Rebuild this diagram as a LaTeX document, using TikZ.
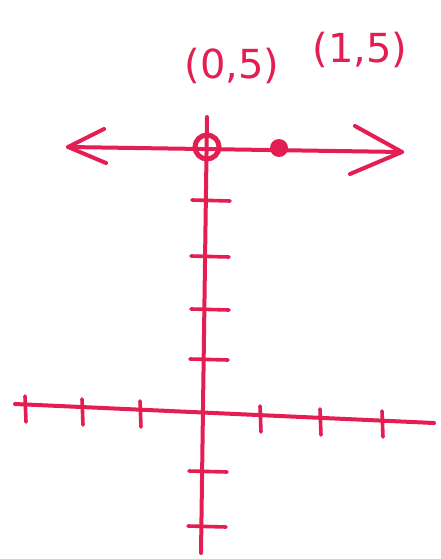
\documentclass[tikz,border=0pt]{standalone}
\usepackage{fontspec}
\setmainfont{DejaVu Sans}
\begin{document}
\begin{tikzpicture}[x=1pt,y=-1pt,
  ink/.style={draw=pk, line width=4pt, line cap=round, line join=round},
  tickmark/.style={ink, line width=3.6pt},
  lbl/.style={text=pk, font=\fontsize{40}{40}\selectfont, inner sep=0pt}]
\definecolor{pk}{RGB}{228,30,82}
\useasboundingbox[fill=white] (0,0) rectangle (441,559);
% top horizontal line with arrows
\coordinate (tl) at (68,147);
\coordinate (tr) at (402,152);
\draw[ink] (tl) -- (tr);
\draw[ink] (104,129) -- (tl) -- (106,163);
\draw[ink] (355,126) -- (tr) -- (350,174);
% vertical axis
\coordinate (vt) at (207,117);
\coordinate (vb) at (201,553);
\draw[ink] (vt) -- (vb);
% bottom axis
\coordinate (hl) at (15,404);
\coordinate (hr) at (434,423);
\draw[ink] (hl) -- (hr);
% y ticks
\foreach \y/\xo in {200/0,256/-1,309/-1,359/-2,471/-3,526/-4}
  \draw[tickmark] (192+\xo,\y) -- (230+\xo,\y+1);
% x ticks
\foreach \x/\yo in {25/0,82/3,140/5,260/10,320/13,382/15}
  \draw[tickmark] (\x,396+\yo) -- (\x+1,422+\yo);
% points
\node[circle, draw=pk, line width=5pt, minimum size=24pt, inner sep=0pt] (p0) at (207,147) {};
\node[circle, fill=pk, minimum size=18pt, inner sep=0pt] (p1) at (279,148) {};
% labels
\node[lbl] (l0) at (232,66) {(0,5)};
\node[lbl] (l1) at (360,50) {(1,5)};
\end{tikzpicture}
\end{document}
